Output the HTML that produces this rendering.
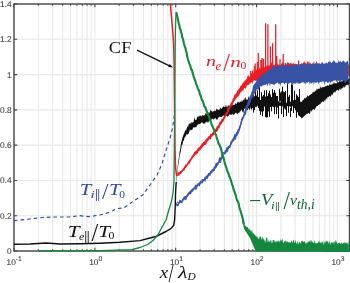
<!DOCTYPE html>
<html><head><meta charset="utf-8"><style>
html,body{margin:0;padding:0;background:#fff;width:350px;height:283px;overflow:hidden;}
svg{display:block;}
.tk{font-family:"Liberation Sans",Arial,sans-serif;font-size:8.3px;fill:#383838;stroke:#383838;stroke-width:0.08px;text-rendering:geometricPrecision;}
.sup{font-size:6.8px;}
.lab{font-family:"Liberation Serif","DejaVu Serif",serif;font-style:italic;}
</style></head><body>
<svg width="350" height="283" viewBox="0 0 350 283">
<defs><clipPath id="c"><rect x="14.0" y="4.0" width="335.5" height="248.1"/></clipPath></defs>
<path d="M14.0 215.72H349.5M14.0 180.44H349.5M14.0 145.16H349.5M14.0 109.88H349.5M14.0 74.60H349.5M14.0 39.32H349.5M38.34 4.0V251.0M52.58 4.0V251.0M62.68 4.0V251.0M70.51 4.0V251.0M76.91 4.0V251.0M82.33 4.0V251.0M87.01 4.0V251.0M91.15 4.0V251.0M94.85 4.0V251.0M119.19 4.0V251.0M133.43 4.0V251.0M143.53 4.0V251.0M151.36 4.0V251.0M157.76 4.0V251.0M163.18 4.0V251.0M167.86 4.0V251.0M172.00 4.0V251.0M175.70 4.0V251.0M200.04 4.0V251.0M214.28 4.0V251.0M224.38 4.0V251.0M232.21 4.0V251.0M238.61 4.0V251.0M244.03 4.0V251.0M248.71 4.0V251.0M252.85 4.0V251.0M256.55 4.0V251.0M280.89 4.0V251.0M295.13 4.0V251.0M305.23 4.0V251.0M313.06 4.0V251.0M319.46 4.0V251.0M324.88 4.0V251.0M329.56 4.0V251.0M333.70 4.0V251.0M337.40 4.0V251.0" stroke="#e8e8e8" stroke-width="1.1" fill="none"/>
<rect x="14.0" y="4.0" width="335.5" height="247.0" fill="none" stroke="#454545" stroke-width="1.4"/>
<path d="M14.0 251.00h3.2M349.5 251.00h-3.2M14.0 215.72h3.2M349.5 215.72h-3.2M14.0 180.44h3.2M349.5 180.44h-3.2M14.0 145.16h3.2M349.5 145.16h-3.2M14.0 109.88h3.2M349.5 109.88h-3.2M14.0 74.60h3.2M349.5 74.60h-3.2M14.0 39.32h3.2M349.5 39.32h-3.2M14.0 4.04h3.2M349.5 4.04h-3.2M14.00 251.0v-3.2M14.00 4.0v3.2M38.34 251.0v-1.8M38.34 4.0v1.8M52.58 251.0v-1.8M52.58 4.0v1.8M62.68 251.0v-1.8M62.68 4.0v1.8M70.51 251.0v-1.8M70.51 4.0v1.8M76.91 251.0v-1.8M76.91 4.0v1.8M82.33 251.0v-1.8M82.33 4.0v1.8M87.01 251.0v-1.8M87.01 4.0v1.8M91.15 251.0v-1.8M91.15 4.0v1.8M94.85 251.0v-3.2M94.85 4.0v3.2M119.19 251.0v-1.8M119.19 4.0v1.8M133.43 251.0v-1.8M133.43 4.0v1.8M143.53 251.0v-1.8M143.53 4.0v1.8M151.36 251.0v-1.8M151.36 4.0v1.8M157.76 251.0v-1.8M157.76 4.0v1.8M163.18 251.0v-1.8M163.18 4.0v1.8M167.86 251.0v-1.8M167.86 4.0v1.8M172.00 251.0v-1.8M172.00 4.0v1.8M175.70 251.0v-3.2M175.70 4.0v3.2M200.04 251.0v-1.8M200.04 4.0v1.8M214.28 251.0v-1.8M214.28 4.0v1.8M224.38 251.0v-1.8M224.38 4.0v1.8M232.21 251.0v-1.8M232.21 4.0v1.8M238.61 251.0v-1.8M238.61 4.0v1.8M244.03 251.0v-1.8M244.03 4.0v1.8M248.71 251.0v-1.8M248.71 4.0v1.8M252.85 251.0v-1.8M252.85 4.0v1.8M256.55 251.0v-3.2M256.55 4.0v3.2M280.89 251.0v-1.8M280.89 4.0v1.8M295.13 251.0v-1.8M295.13 4.0v1.8M305.23 251.0v-1.8M305.23 4.0v1.8M313.06 251.0v-1.8M313.06 4.0v1.8M319.46 251.0v-1.8M319.46 4.0v1.8M324.88 251.0v-1.8M324.88 4.0v1.8M329.56 251.0v-1.8M329.56 4.0v1.8M333.70 251.0v-1.8M333.70 4.0v1.8M337.40 251.0v-3.2M337.40 4.0v3.2" stroke="#454545" stroke-width="1.1" fill="none"/>
<g clip-path="url(#c)" fill="none" stroke-linejoin="round">
<path d="M249.00 101.94L249.80 100.22L250.60 100.88L251.40 101.78L252.20 100.89L253.00 102.04L253.80 102.15L254.60 101.15L255.40 99.46L256.20 102.29L257.00 100.59L257.80 101.72L258.60 102.30L259.40 100.49L260.20 102.04L261.00 101.33L261.80 101.02L262.60 101.25L263.40 102.14L264.20 101.30L265.00 101.96L265.80 102.02L266.60 102.53L267.40 101.95L268.20 101.61L269.00 102.25L269.80 101.39L270.60 101.09L271.40 102.59L272.20 101.60L273.00 100.83L273.80 102.67L274.60 101.91L275.40 101.52L276.20 101.68L277.00 102.10L277.80 100.93L278.60 101.80L279.40 102.28L280.20 102.49L281.00 101.86L281.80 102.07L282.60 102.60L283.40 102.08L284.20 102.75L285.00 101.52L285.80 102.71L286.60 102.78L287.40 101.70L288.20 101.77L289.00 102.82L289.80 100.82L290.60 102.11L291.40 101.60L292.20 100.75L293.00 102.85L293.80 101.61L294.60 101.11L295.40 101.65L296.20 102.07L297.00 101.62L297.80 102.53L298.60 102.03L298.60 106.00L297.80 106.27L297.00 106.63L296.20 106.25L295.40 107.09L294.60 106.82L293.80 106.15L293.00 106.22L292.20 106.04L291.40 106.63L290.60 107.14L289.80 105.95L289.00 106.76L288.20 106.59L287.40 105.93L286.60 106.76L285.80 106.00L285.00 108.06L284.20 107.36L283.40 105.85L282.60 105.87L281.80 107.13L281.00 105.88L280.20 105.86L279.40 105.79L278.60 106.21L277.80 108.00L277.00 106.76L276.20 106.19L275.40 106.68L274.60 107.35L273.80 106.85L273.00 107.47L272.20 106.00L271.40 106.94L270.60 106.88L269.80 106.92L269.00 106.25L268.20 108.99L267.40 107.26L266.60 106.01L265.80 107.24L265.00 106.72L264.20 106.54L263.40 106.44L262.60 107.13L261.80 106.74L261.00 107.38L260.20 106.75L259.40 107.79L258.60 105.56L257.80 105.69L257.00 105.54L256.20 105.79L255.40 105.88L254.60 107.73L253.80 107.70L253.00 106.95L252.20 106.67L251.40 106.02L250.60 106.41L249.80 106.20L249.00 106.37Z" fill="#111111"/>
<path d="M251.50 95.83V108.48M251.50 97.42V109.46M252.50 96.56V106.17M253.50 94.55V112.50M254.50 96.14V110.09M255.50 88.12V99.14M256.50 95.47V104.78M257.50 90.30V103.09M258.50 98.07V108.17M258.50 97.02V107.11M259.50 98.72V111.03M259.50 86.23V107.56M260.50 99.98V114.93M261.50 92.24V111.61M262.50 99.03V116.25M262.50 96.40V115.19M263.50 95.01V111.31M264.50 90.37V102.63M265.50 96.63V117.15M266.50 99.08V117.45M266.50 90.12V109.65M267.50 95.89V117.37M268.50 93.20V111.46M269.50 90.68V110.80M269.50 101.76V116.87M270.50 94.57V103.10M271.50 97.14V111.34M272.50 89.08V103.19M273.50 92.59V106.79M274.50 90.23V114.12M274.50 90.75V110.15M275.50 92.76V102.74M276.50 104.27V114.13M276.50 95.99V113.19M277.50 96.02V107.07M278.50 101.45V118.50M279.50 92.01V100.54M279.50 88.77V101.76M280.50 92.49V101.40M281.50 91.41V114.08M282.50 94.62V106.26M282.50 86.63V102.68M283.50 95.31V117.08M283.50 91.65V102.59M284.50 92.13V108.56M285.50 90.82V108.88M285.50 95.21V109.54M286.50 105.24V116.11M287.50 81.70V104.70M287.50 85.72V97.41M288.50 96.75V112.85M289.50 95.06V103.71M290.50 107.98V117.04M291.50 84.29V106.39M291.50 89.68V110.94M292.50 84.61V106.21M293.50 100.15V112.98M294.50 95.13V105.78M294.50 90.65V108.19M295.50 99.82V110.30M296.50 94.35V117.80M297.50 95.66V108.17M298.50 97.01V115.31M299.50 89.03V103.67" stroke="#111111" stroke-width="1"/>
<path d="M297.00 96.23L297.50 98.51L298.00 97.45L298.50 99.00L299.00 100.02L299.50 98.30L300.00 101.26L300.50 101.55L301.00 101.92L301.50 101.95L302.00 101.43L302.50 100.06L303.00 100.40L303.50 99.45L304.00 99.46L304.50 97.43L305.00 98.38L305.50 98.18L306.00 97.87L306.50 97.17L307.00 96.70L307.50 94.94L308.00 96.19L308.50 96.16L309.00 95.79L309.50 95.34L310.00 94.68L310.50 94.87L311.00 94.07L311.50 94.02L312.00 93.99L312.50 91.98L313.00 92.93L313.50 91.80L314.00 91.69L314.50 92.36L315.00 90.31L315.50 90.77L316.00 91.48L316.50 88.04L317.00 90.51L317.50 88.73L318.00 88.65L318.50 89.17L319.00 88.01L319.50 88.85L320.00 88.65L320.50 86.55L321.00 86.57L321.50 88.33L322.00 87.97L322.50 86.47L323.00 87.02L323.50 87.19L324.00 87.05L324.50 87.24L325.00 85.92L325.50 86.03L326.00 86.78L326.50 85.72L327.00 85.75L327.50 84.97L328.00 85.69L328.50 85.66L329.00 85.44L329.50 84.45L330.00 83.48L330.50 84.70L331.00 85.23L331.50 84.75L332.00 82.80L332.50 84.38L333.00 83.92L333.50 83.43L334.00 81.47L334.50 83.82L335.00 82.94L335.50 83.46L336.00 83.02L336.50 83.63L337.00 82.52L337.50 79.74L338.00 83.00L338.50 82.29L339.00 81.95L339.50 80.46L340.00 81.02L340.50 81.93L341.00 81.77L341.50 80.98L342.00 81.13L342.50 81.61L343.00 80.32L343.50 78.79L344.00 80.96L344.50 80.94L345.00 80.58L345.50 78.92L346.00 80.46L346.50 78.42L347.00 78.91L347.50 79.76L348.00 79.58L348.50 78.64L349.00 78.14L349.00 83.54L348.50 85.94L348.00 84.80L347.50 84.95L347.00 84.59L346.50 85.16L346.00 85.14L345.50 85.64L345.00 87.46L344.50 86.20L344.00 88.60L343.50 86.35L343.00 87.15L342.50 88.32L342.00 88.16L341.50 89.59L341.00 87.53L340.50 90.32L340.00 89.44L339.50 88.58L339.00 90.08L338.50 91.75L338.00 89.44L337.50 90.04L337.00 89.93L336.50 90.85L336.00 90.75L335.50 92.85L335.00 91.48L334.50 92.30L334.00 92.37L333.50 92.44L333.00 93.40L332.50 95.59L332.00 94.22L331.50 94.45L331.00 96.32L330.50 96.99L330.00 95.53L329.50 96.13L329.00 96.28L328.50 97.59L328.00 96.88L327.50 97.09L327.00 99.84L326.50 98.49L326.00 98.13L325.50 99.65L325.00 102.11L324.50 99.73L324.00 101.01L323.50 102.15L323.00 101.40L322.50 101.20L322.00 101.79L321.50 102.71L321.00 102.20L320.50 104.05L320.00 104.33L319.50 103.90L319.00 105.02L318.50 104.95L318.00 105.17L317.50 105.97L317.00 105.88L316.50 106.22L316.00 107.45L315.50 107.77L315.00 109.20L314.50 109.91L314.00 109.28L313.50 109.14L313.00 109.07L312.50 110.54L312.00 109.79L311.50 111.98L311.00 110.63L310.50 110.79L310.00 113.66L309.50 114.33L309.00 113.35L308.50 112.71L308.00 113.32L307.50 114.04L307.00 113.67L306.50 113.66L306.00 115.13L305.50 114.62L305.00 115.52L304.50 115.91L304.00 115.68L303.50 116.94L303.00 117.44L302.50 118.09L302.00 117.40L301.50 118.84L301.00 117.49L300.50 116.89L300.00 116.27L299.50 116.35L299.00 115.98L298.50 113.86L298.00 112.44L297.50 112.19L297.00 111.96Z" fill="#111111"/>
<path d="M14.00 244.20L30.00 244.00L46.00 243.00L60.00 244.00L80.00 243.80L100.00 243.20L120.00 242.20L140.00 240.60L150.00 238.00L156.00 236.50L161.00 234.00L166.00 231.50L170.80 228.60L173.60 225.50L174.60 220.00L175.20 207.50L175.60 192.00L176.20 182.00" stroke="#111111" stroke-width="1.4"/>
<path d="M176.20 179.77L176.90 172.95L177.60 166.37L178.30 160.89L179.00 156.36L179.70 151.15L180.40 147.61L181.10 142.52L181.80 140.51L182.50 137.36L183.20 135.53L183.90 133.72L184.60 132.24L185.30 130.01L186.00 130.39L186.70 128.39L187.40 126.39L188.10 126.83L188.80 123.80L189.50 124.04L190.20 122.39L190.90 124.30L191.60 121.85L192.30 122.80L193.00 122.37L193.70 121.71L194.40 117.02L195.10 119.87L195.80 120.13L196.50 119.40L197.20 116.21L197.90 117.52L198.60 116.27L199.30 116.26L200.00 115.46L200.70 115.65L201.40 116.83L202.10 114.92L202.80 115.20L203.50 115.80L204.20 115.51L204.90 115.31L205.60 112.80L206.30 114.70L207.00 111.97L207.70 111.34L208.40 112.40L209.10 113.55L209.80 112.28L210.50 109.41L211.20 111.53L211.90 110.42L212.60 112.32L213.30 111.09L214.00 111.57L214.70 110.36L215.40 111.28L216.10 109.89L216.80 108.18L217.50 109.43L218.20 110.11L218.90 109.39L219.60 109.81L220.30 107.54L221.00 108.49L221.70 109.01L222.40 107.43L223.10 106.72L223.80 106.15L224.50 106.95L225.20 107.01L225.90 104.16L226.60 106.90L227.30 107.38L228.00 104.89L228.70 105.77L229.40 106.24L230.10 105.93L230.80 105.94L231.50 103.23L232.20 105.15L232.90 105.18L233.60 104.81L234.30 104.96L235.00 104.51L235.70 102.41L236.40 104.27L237.10 103.11L237.80 101.39L238.50 102.09L239.20 103.03L239.90 101.46L240.60 101.89L241.30 100.28L242.00 102.14L242.70 100.80L243.40 99.20L244.10 100.87L244.80 98.01L245.50 97.12L246.20 100.35L246.90 98.96L247.60 100.22L248.30 95.89L249.00 98.49L249.70 98.70L250.40 99.38L251.10 98.68L251.80 99.18L252.50 98.99L253.20 97.88L253.90 98.11L254.60 96.96L255.30 98.73L256.00 98.69L256.70 96.53L257.40 97.99L257.40 106.38L256.70 106.53L256.00 107.50L255.30 106.44L254.60 107.94L253.90 108.28L253.20 107.72L252.50 108.49L251.80 107.45L251.10 106.88L250.40 107.88L249.70 110.29L249.00 109.14L248.30 107.74L247.60 110.60L246.90 109.49L246.20 108.06L245.50 108.66L244.80 108.45L244.10 109.07L243.40 112.91L242.70 112.18L242.00 110.78L241.30 109.34L240.60 111.51L239.90 111.32L239.20 113.33L238.50 112.55L237.80 113.51L237.10 114.58L236.40 112.90L235.70 112.44L235.00 113.46L234.30 114.50L233.60 115.32L232.90 113.50L232.20 114.62L231.50 114.66L230.80 114.77L230.10 114.51L229.40 113.93L228.70 115.73L228.00 115.90L227.30 116.94L226.60 115.54L225.90 115.39L225.20 116.17L224.50 117.33L223.80 115.28L223.10 115.72L222.40 116.20L221.70 117.02L221.00 116.98L220.30 117.04L219.60 116.44L218.90 117.13L218.20 117.74L217.50 119.52L216.80 119.48L216.10 119.46L215.40 117.81L214.70 118.80L214.00 118.87L213.30 119.67L212.60 118.59L211.90 118.73L211.20 120.32L210.50 122.52L209.80 120.58L209.10 120.00L208.40 122.62L207.70 122.76L207.00 120.94L206.30 122.56L205.60 122.08L204.90 124.22L204.20 122.86L203.50 124.21L202.80 122.41L202.10 122.81L201.40 122.37L200.70 123.68L200.00 123.49L199.30 124.42L198.60 123.38L197.90 125.38L197.20 124.42L196.50 126.95L195.80 127.51L195.10 126.87L194.40 127.69L193.70 126.93L193.00 128.31L192.30 129.80L191.60 130.22L190.90 129.51L190.20 130.34L189.50 130.65L188.80 133.50L188.10 133.82L187.40 135.12L186.70 133.83L186.00 135.72L185.30 136.71L184.60 137.45L183.90 140.53L183.20 141.10L182.50 144.57L181.80 145.17L181.10 148.90L180.40 153.30L179.70 155.62L179.00 160.52L178.30 164.76L177.60 169.56L176.90 176.57L176.20 182.84Z" fill="#111111"/>
<path d="M170.20 3.00L171.80 20.00L173.00 35.00L173.70 45.00L174.20 70.00L174.60 110.00L175.00 150.00L175.60 168.00L176.60 175.50L177.50 175.50" stroke="#ec1c24" stroke-width="1.5"/>
<path d="M248.3 81.1V75.5M250.6 79.3V71.0M251.4 78.6V74.0M252.6 77.6V70.5M254.4 76.3V66.0M255.2 76.0V63.5M257.4 75.0V62.0M258.3 74.6V53.0M260.9 73.4V60.0M262.0 72.9V58.0M263.5 72.2V59.0M265.6 71.8V23.2M267.9 71.4V24.2M270.4 71.0V46.5M272.6 70.7V43.3M275.7 70.5V24.2M276.8 70.5V56.0M280.0 70.5V59.2M283.2 70.4V54.0M285.3 70.4V63.0M287.4 70.4V62.4M298.6 70.3V60.6M292.0 70.4V64.0M305.0 70.3V63.0M318.0 70.2V63.5M330.0 70.1V62.0" stroke="#ec1c24" stroke-width="1.25"/>
<path d="M177.30 173.00L177.90 172.39L178.50 172.33L179.10 172.24L179.70 171.74L180.30 170.68L180.90 171.05L181.50 170.33L182.10 169.46L182.70 168.89L183.30 167.93L183.90 167.47L184.50 166.03L185.10 165.83L185.70 163.73L186.30 164.63L186.90 163.79L187.50 162.71L188.10 161.68L188.70 160.48L189.30 160.25L189.90 158.82L190.50 158.40L191.10 157.61L191.70 155.64L192.30 155.39L192.90 154.94L193.50 153.74L194.10 152.33L194.70 151.29L195.30 151.57L195.90 150.99L196.50 150.20L197.10 149.56L197.70 148.27L198.30 147.44L198.90 147.38L199.50 147.05L200.10 146.08L200.70 145.49L201.30 144.51L201.90 142.95L202.50 143.62L203.10 142.07L203.70 142.08L204.30 141.63L204.90 141.02L205.50 139.35L206.10 139.79L206.70 138.07L207.30 138.02L207.90 137.23L208.50 136.33L209.10 136.30L209.70 135.47L210.30 133.73L210.90 134.10L211.50 133.92L212.10 133.06L212.70 132.60L213.30 131.51L213.90 131.34L214.50 129.69L215.10 129.58L215.70 128.72L216.30 127.81L216.90 126.05L217.50 126.22L218.10 125.25L218.70 124.40L219.30 122.55L219.90 121.42L220.50 121.81L221.10 119.99L221.70 118.67L222.30 118.98L222.90 118.25L223.50 116.72L224.10 116.15L224.70 114.57L225.30 113.55L225.90 112.29L226.50 111.78L227.10 109.86L227.70 107.39L228.30 107.63L228.90 106.99L229.50 105.56L230.10 104.46L230.70 102.95L231.30 102.33L231.90 101.54L232.50 99.51L233.10 98.34L233.70 97.57L234.30 94.94L234.90 94.32L235.50 94.24L236.10 93.53L236.70 92.55L237.30 90.18L237.90 90.40L238.50 89.16L239.10 88.42L239.70 87.90L240.30 86.33L240.90 85.83L241.50 85.14L242.10 83.84L242.70 83.45L243.30 82.06L243.90 82.57L244.50 80.86L245.10 80.84L245.70 79.61L246.30 79.24L246.90 79.10L247.50 75.91L248.10 77.33L248.70 77.10L249.30 77.06L249.90 76.23L250.50 74.59L251.10 74.92L251.70 72.77L252.30 74.07L252.90 73.86L253.50 73.18L254.10 71.04L254.70 72.04L255.30 71.01L255.90 70.26L256.50 70.23L257.10 68.11L257.70 69.67L258.30 70.09L258.90 69.90L259.50 67.08L260.10 68.03L260.70 68.95L261.30 68.06L261.90 67.27L262.50 67.46L263.10 67.38L263.70 67.14L264.30 67.20L264.90 67.07L265.50 65.31L266.10 67.04L266.70 65.52L267.30 65.26L267.90 66.36L268.50 65.54L269.10 64.76L269.70 66.14L270.30 64.55L270.90 64.31L271.50 62.19L272.10 62.57L272.70 65.54L273.30 64.54L273.90 65.49L274.50 65.49L275.10 62.96L275.70 63.33L276.30 63.76L276.90 65.50L277.50 63.09L278.10 65.22L278.70 64.33L279.30 65.02L279.90 64.17L280.50 65.41L281.10 64.57L281.70 64.49L282.30 61.54L282.90 63.75L283.50 64.09L284.10 65.08L284.70 65.21L285.30 63.40L285.90 64.45L286.50 63.96L287.10 64.90L287.70 63.01L288.30 62.61L288.90 62.95L289.50 63.97L290.10 63.07L290.70 62.74L291.30 64.93L291.90 62.60L292.50 64.38L293.10 63.26L293.70 62.73L294.30 64.19L294.90 64.20L295.50 63.58L296.10 63.69L296.70 64.24L297.30 64.85L297.90 63.84L298.50 63.90L299.10 64.72L299.70 64.78L300.30 63.70L300.90 64.00L301.50 62.65L302.10 64.44L302.70 63.14L303.30 62.55L303.90 63.76L304.50 60.53L305.10 63.34L305.70 63.39L306.30 64.34L306.90 61.45L307.50 61.77L308.10 61.33L308.70 63.19L309.30 63.77L309.90 63.56L310.50 63.67L311.10 64.90L311.70 64.22L312.30 63.88L312.90 64.92L313.50 63.25L314.10 61.09L314.70 63.98L315.30 63.30L315.90 63.45L316.50 64.73L317.10 63.61L317.70 64.51L318.30 63.61L318.90 63.63L319.50 62.55L320.10 65.15L320.70 64.37L321.30 63.52L321.90 64.98L322.50 63.51L323.10 65.20L323.70 65.08L324.30 64.32L324.90 63.56L325.50 64.71L326.10 64.87L326.70 65.01L327.30 65.14L327.90 63.89L328.50 63.71L329.10 64.68L329.70 64.60L330.30 64.06L330.90 64.77L331.50 64.73L332.10 64.70L332.70 62.36L333.30 64.79L333.90 62.77L334.50 63.97L335.10 64.41L335.70 64.82L336.30 64.75L336.90 65.29L337.50 65.31L338.10 64.99L338.70 62.92L339.30 65.09L339.90 62.41L340.50 64.91L341.10 64.45L341.70 64.48L342.30 65.14L342.90 65.08L343.50 63.59L344.10 63.21L344.70 64.10L345.30 62.89L345.90 64.26L346.50 63.50L347.10 64.18L347.70 64.69L348.30 63.83L348.90 65.14L348.90 77.61L348.30 74.74L347.70 75.29L347.10 75.29L346.50 75.93L345.90 76.56L345.30 75.56L344.70 74.68L344.10 75.69L343.50 74.87L342.90 75.82L342.30 75.00L341.70 76.92L341.10 76.83L340.50 74.75L339.90 75.43L339.30 74.97L338.70 74.86L338.10 75.04L337.50 74.92L336.90 76.19L336.30 77.22L335.70 75.65L335.10 76.59L334.50 76.06L333.90 77.16L333.30 76.97L332.70 76.62L332.10 77.10L331.50 75.16L330.90 77.20L330.30 76.54L329.70 75.60L329.10 77.11L328.50 75.88L327.90 75.79L327.30 75.85L326.70 75.97L326.10 75.56L325.50 77.07L324.90 76.50L324.30 76.25L323.70 75.31L323.10 75.20L322.50 77.39L321.90 76.31L321.30 79.83L320.70 75.33L320.10 75.74L319.50 76.28L318.90 76.53L318.30 75.55L317.70 76.85L317.10 76.12L316.50 76.67L315.90 76.55L315.30 76.09L314.70 75.78L314.10 77.56L313.50 76.20L312.90 79.05L312.30 77.48L311.70 76.33L311.10 77.64L310.50 75.86L309.90 77.32L309.30 76.38L308.70 76.81L308.10 80.16L307.50 76.23L306.90 77.61L306.30 77.39L305.70 76.06L305.10 76.94L304.50 78.47L303.90 77.50L303.30 76.42L302.70 77.52L302.10 76.51L301.50 76.40L300.90 76.06L300.30 78.87L299.70 77.14L299.10 78.52L298.50 78.15L297.90 78.18L297.30 78.10L296.70 77.02L296.10 76.31L295.50 76.40L294.90 77.04L294.30 76.41L293.70 78.14L293.10 76.95L292.50 78.60L291.90 76.10L291.30 78.15L290.70 77.92L290.10 78.40L289.50 77.25L288.90 78.43L288.30 75.66L287.70 78.86L287.10 76.70L286.50 76.02L285.90 76.29L285.30 77.07L284.70 75.87L284.10 75.66L283.50 77.31L282.90 77.11L282.30 75.52L281.70 77.08L281.10 78.59L280.50 76.11L279.90 76.38L279.30 75.79L278.70 77.83L278.10 76.86L277.50 75.69L276.90 75.63L276.30 77.79L275.70 77.33L275.10 77.38L274.50 76.93L273.90 76.18L273.30 76.94L272.70 76.57L272.10 75.94L271.50 76.56L270.90 77.15L270.30 76.02L269.70 79.00L269.10 76.06L268.50 76.00L267.90 76.17L267.30 77.48L266.70 76.84L266.10 76.65L265.50 76.92L264.90 80.01L264.30 79.14L263.70 78.54L263.10 79.86L262.50 77.59L261.90 78.38L261.30 78.43L260.70 77.89L260.10 78.62L259.50 79.80L258.90 78.53L258.30 79.46L257.70 80.22L257.10 81.44L256.50 80.45L255.90 80.17L255.30 81.14L254.70 80.49L254.10 80.32L253.50 80.65L252.90 82.02L252.30 84.35L251.70 81.87L251.10 82.25L250.50 83.76L249.90 83.08L249.30 84.73L248.70 84.63L248.10 85.07L247.50 85.20L246.90 85.40L246.30 87.21L245.70 89.07L245.10 88.18L244.50 87.71L243.90 88.67L243.30 90.77L242.70 90.37L242.10 91.55L241.50 91.51L240.90 92.52L240.30 92.22L239.70 94.73L239.10 94.43L238.50 96.66L237.90 96.18L237.30 97.35L236.70 97.82L236.10 98.18L235.50 99.49L234.90 100.22L234.30 101.54L233.70 102.01L233.10 104.25L232.50 105.12L231.90 105.93L231.30 106.63L230.70 107.57L230.10 108.61L229.50 109.99L228.90 111.20L228.30 112.17L227.70 113.84L227.10 114.19L226.50 115.89L225.90 116.26L225.30 118.33L224.70 118.77L224.10 119.82L223.50 121.21L222.90 122.03L222.30 122.62L221.70 123.77L221.10 124.37L220.50 125.26L219.90 126.61L219.30 128.93L218.70 127.96L218.10 129.80L217.50 131.38L216.90 132.03L216.30 131.79L215.70 132.39L215.10 133.63L214.50 134.27L213.90 135.14L213.30 135.22L212.70 135.79L212.10 136.91L211.50 136.98L210.90 139.35L210.30 139.18L209.70 139.08L209.10 139.78L208.50 140.34L207.90 141.03L207.30 141.71L206.70 143.02L206.10 144.69L205.50 144.60L204.90 145.34L204.30 144.81L203.70 146.12L203.10 146.60L202.50 147.57L201.90 147.99L201.30 148.85L200.70 149.53L200.10 150.74L199.50 150.33L198.90 151.11L198.30 151.87L197.70 153.67L197.10 153.17L196.50 154.48L195.90 154.82L195.30 154.92L194.70 155.96L194.10 156.64L193.50 157.16L192.90 158.10L192.30 159.12L191.70 159.55L191.10 160.78L190.50 161.83L189.90 162.74L189.30 164.58L188.70 163.74L188.10 165.55L187.50 165.61L186.90 166.85L186.30 167.22L185.70 168.30L185.10 168.57L184.50 170.48L183.90 170.99L183.30 170.46L182.70 171.72L182.10 172.00L181.50 172.93L180.90 173.90L180.30 173.89L179.70 174.44L179.10 176.05L178.50 175.71L177.90 175.85L177.30 176.53Z" fill="#ec1c24"/>
<path d="M176.30 204.30L177.10 204.27L177.90 203.75L178.70 202.01L179.50 199.50L180.30 200.77L181.10 200.94L181.90 200.07L182.70 198.60L183.50 197.83L184.30 197.00L185.10 196.94L185.90 196.11L186.70 194.97L187.50 194.55L188.30 193.98L189.10 192.06L189.90 190.80L190.70 191.26L191.50 189.05L192.30 189.35L193.10 187.79L193.90 188.37L194.70 187.06L195.50 184.13L196.30 185.06L197.10 184.41L197.90 183.13L198.70 183.83L199.50 182.75L200.30 181.48L201.10 181.45L201.90 181.02L202.70 179.80L203.50 179.32L204.30 178.68L205.10 178.51L205.90 177.80L206.70 176.64L207.50 174.62L208.30 173.05L209.10 173.04L209.90 172.59L210.70 172.08L211.50 171.44L212.30 169.99L213.10 169.21L213.90 166.85L214.70 166.97L215.50 163.34L216.30 163.34L217.10 163.09L217.90 162.58L218.70 161.66L219.50 159.03L220.30 158.03L221.10 157.97L221.90 155.29L222.70 155.50L223.50 154.05L224.30 153.19L225.10 151.62L225.90 149.18L226.70 148.70L227.50 147.55L228.30 145.92L229.10 145.38L229.90 144.82L230.70 140.74L231.50 142.41L232.30 139.79L233.10 139.07L233.90 136.33L234.70 135.39L235.50 134.01L236.30 132.10L237.10 132.29L237.90 129.07L238.70 128.87L239.50 125.56L240.30 123.99L241.10 119.85L241.90 117.58L242.70 116.40L243.50 114.14L244.30 111.85L245.10 109.01L245.90 104.95L246.70 105.42L247.50 101.74L248.30 100.55L249.10 98.08L249.90 96.09L250.70 94.65L251.50 91.77L252.30 90.61L253.10 86.03L253.90 84.47L254.70 83.42L255.50 82.68L256.30 81.61L257.10 79.04L257.90 78.71L258.70 78.97L259.50 74.85L260.30 76.54L261.10 76.37L261.90 75.05L262.70 74.91L263.50 73.46L264.30 74.16L265.10 73.42L265.90 69.67L266.70 72.26L267.50 71.48L268.30 70.62L269.10 67.83L269.90 69.62L270.70 69.65L271.50 69.00L272.30 66.55L273.10 66.94L273.90 65.32L274.70 67.03L275.50 64.97L276.30 66.04L277.10 66.32L277.90 65.21L278.70 66.43L279.50 66.53L280.30 66.61L281.10 65.01L281.90 62.82L282.70 65.30L283.50 64.91L284.30 64.70L285.10 65.07L285.90 65.03L286.70 65.97L287.50 64.82L288.30 66.17L289.10 65.60L289.90 64.93L290.70 65.97L291.50 63.13L292.30 65.50L293.10 64.86L293.90 65.85L294.70 64.22L295.50 65.35L296.30 64.20L297.10 64.21L297.90 65.28L298.70 63.55L299.50 64.62L300.30 65.14L301.10 63.55L301.90 63.89L302.70 64.40L303.50 61.38L304.30 64.52L305.10 64.25L305.90 64.15L306.70 64.82L307.50 63.89L308.30 64.68L309.10 61.28L309.90 64.55L310.70 62.28L311.50 64.34L312.30 63.71L313.10 62.15L313.90 64.48L314.70 64.54L315.50 64.18L316.30 60.69L317.10 62.94L317.90 63.78L318.70 63.64L319.50 63.93L320.30 63.93L321.10 63.56L321.90 61.96L322.70 62.53L323.50 63.63L324.30 63.85L325.10 63.39L325.90 62.99L326.70 62.47L327.50 63.82L328.30 61.76L329.10 61.93L329.90 61.05L330.70 62.23L331.50 62.88L332.30 62.24L333.10 60.97L333.90 60.45L334.70 61.20L335.50 62.73L336.30 62.84L337.10 62.45L337.90 63.16L338.70 59.45L339.50 62.35L340.30 60.64L341.10 61.96L341.90 62.36L342.70 60.98L343.50 60.55L344.30 61.16L345.10 62.90L345.90 61.82L346.70 61.82L347.50 61.00L348.30 61.32L348.30 83.67L347.50 79.86L346.70 80.61L345.90 82.23L345.10 83.48L344.30 81.01L343.50 80.16L342.70 81.00L341.90 80.11L341.10 80.96L340.30 81.70L339.50 80.74L338.70 80.66L337.90 80.48L337.10 80.46L336.30 82.28L335.50 80.31L334.70 80.50L333.90 80.49L333.10 80.85L332.30 81.91L331.50 81.42L330.70 83.06L329.90 82.39L329.10 81.07L328.30 83.29L327.50 83.07L326.70 81.49L325.90 81.71L325.10 81.85L324.30 84.99L323.50 81.32L322.70 80.92L321.90 82.76L321.10 81.50L320.30 82.07L319.50 82.28L318.70 84.30L317.90 82.30L317.10 81.77L316.30 82.97L315.50 82.89L314.70 81.61L313.90 85.16L313.10 81.88L312.30 82.63L311.50 83.68L310.70 81.98L309.90 85.11L309.10 81.94L308.30 81.69L307.50 83.34L306.70 81.79L305.90 84.76L305.10 82.59L304.30 83.49L303.50 82.15L302.70 82.20L301.90 82.53L301.10 82.76L300.30 83.18L299.50 83.44L298.70 84.08L297.90 81.97L297.10 83.99L296.30 82.54L295.50 83.84L294.70 83.98L293.90 82.57L293.10 84.87L292.30 83.94L291.50 84.01L290.70 82.23L289.90 83.87L289.10 82.80L288.30 84.30L287.50 84.65L286.70 83.38L285.90 82.55L285.10 83.30L284.30 84.47L283.50 82.83L282.70 82.79L281.90 83.04L281.10 83.12L280.30 86.03L279.50 83.40L278.70 84.15L277.90 82.44L277.10 82.75L276.30 83.58L275.50 83.50L274.70 84.65L273.90 84.54L273.10 84.69L272.30 83.95L271.50 84.16L270.70 83.40L269.90 86.84L269.10 83.10L268.30 83.56L267.50 86.41L266.70 83.81L265.90 84.59L265.10 85.28L264.30 84.72L263.50 85.51L262.70 85.10L261.90 87.18L261.10 85.71L260.30 86.30L259.50 87.79L258.70 89.85L257.90 89.93L257.10 88.71L256.30 90.69L255.50 92.33L254.70 93.55L253.90 94.51L253.10 98.46L252.30 97.34L251.50 99.02L250.70 101.84L249.90 103.84L249.10 105.82L248.30 106.20L247.50 108.66L246.70 110.96L245.90 114.43L245.10 114.94L244.30 116.74L243.50 118.75L242.70 120.21L241.90 123.03L241.10 124.71L240.30 127.68L239.50 129.51L238.70 133.38L237.90 133.91L237.10 135.73L236.30 135.77L235.50 137.29L234.70 139.12L233.90 139.97L233.10 142.09L232.30 142.28L231.50 144.52L230.70 145.36L229.90 146.18L229.10 148.35L228.30 148.43L227.50 150.56L226.70 150.95L225.90 153.59L225.10 153.68L224.30 154.70L223.50 155.27L222.70 158.89L221.90 158.33L221.10 159.88L220.30 161.57L219.50 162.74L218.70 162.61L217.90 164.58L217.10 166.11L216.30 166.95L215.50 168.47L214.70 169.71L213.90 171.25L213.10 171.06L212.30 173.11L211.50 173.45L210.70 174.20L209.90 174.31L209.10 175.71L208.30 176.77L207.50 179.26L206.70 178.40L205.90 179.55L205.10 180.12L204.30 180.19L203.50 181.39L202.70 183.36L201.90 182.99L201.10 183.45L200.30 184.16L199.50 186.74L198.70 184.92L197.90 186.36L197.10 186.93L196.30 187.03L195.50 190.04L194.70 188.65L193.90 189.52L193.10 190.64L192.30 192.16L191.50 192.36L190.70 192.62L189.90 194.10L189.10 193.97L188.30 194.85L187.50 197.04L186.70 196.36L185.90 198.41L185.10 199.18L184.30 198.70L183.50 200.42L182.70 200.36L181.90 201.83L181.10 201.78L180.30 202.99L179.50 203.37L178.70 204.92L177.90 206.51L177.10 205.48L176.30 206.71Z" fill="#3953a4"/>
<path d="M176.30 204.59L177.10 205.05L177.90 205.93L178.70 203.69L179.50 202.94L180.30 200.22L181.10 202.91L181.90 202.65L182.70 199.80L183.50 198.78L184.30 196.38L185.10 198.66L185.90 200.05L186.70 196.88L187.50 196.74L188.30 195.08L189.10 192.46L189.90 194.45L190.70 190.58L191.50 191.01L192.30 190.81L193.10 190.74L193.90 189.39L194.70 188.56L195.50 186.45L196.30 185.11L197.10 186.03L197.90 184.41L198.70 182.99L199.50 182.34L200.30 182.57L201.10 180.23L201.90 180.14L202.70 179.09L203.50 180.57L204.30 180.14L205.10 181.36L205.90 176.45L206.70 176.62L207.50 177.60L208.30 175.31L209.10 174.25L209.90 175.76L210.70 172.37L211.50 170.46L212.30 169.33L213.10 170.38L213.90 169.41L214.70 166.47L215.50 165.76L216.30 166.37L217.10 165.22L217.90 162.54L218.70 162.85L219.50 161.58L220.30 157.54L221.10 158.10L221.90 157.76L222.70 155.37L223.50 152.29L224.30 153.32L225.10 153.36L225.90 153.16L226.70 147.44L227.50 152.01L228.30 146.33L229.10 147.63L229.90 146.77L230.70 145.27L231.50 143.08L232.30 140.18L233.10 140.96L233.90 137.99L234.70 134.46L235.50 139.51L236.30 135.60L237.10 135.57L237.90 130.93L238.70 132.13L239.50 129.75L240.30 127.18L241.10 122.76L241.90 118.82M176.30 205.29L177.10 202.14L177.90 202.02L178.70 203.46L179.50 201.44L180.30 201.72L181.10 201.07L181.90 202.80L182.70 201.32L183.50 198.99L184.30 199.78L185.10 196.67L185.90 196.40L186.70 197.11L187.50 193.74L188.30 194.10L189.10 192.06L189.90 192.99L190.70 194.02L191.50 190.36L192.30 190.74L193.10 188.60L193.90 187.51L194.70 186.61L195.50 189.11L196.30 189.50L197.10 186.54L197.90 184.40L198.70 185.40L199.50 183.46L200.30 184.12L201.10 182.80L201.90 182.09L202.70 181.78L203.50 179.66L204.30 179.17L205.10 176.89L205.90 177.72L206.70 175.73L207.50 176.33L208.30 174.42L209.10 174.76L209.90 174.25L210.70 171.07L211.50 170.87L212.30 169.78L213.10 170.88L213.90 171.10L214.70 169.14L215.50 166.52L216.30 167.49L217.10 162.71L217.90 165.11L218.70 161.32L219.50 157.56L220.30 162.87L221.10 160.37L221.90 156.03L222.70 156.26L223.50 154.59L224.30 153.78L225.10 150.68L225.90 150.45L226.70 150.63L227.50 149.14L228.30 149.12L229.10 146.58L229.90 148.11L230.70 143.24L231.50 143.21L232.30 139.28L233.10 138.71L233.90 140.44L234.70 136.35L235.50 136.75L236.30 134.68L237.10 132.13L237.90 131.61L238.70 129.75L239.50 127.26L240.30 126.22L241.10 123.57L241.90 119.57" stroke="#3953a4" stroke-width="0.9"/>
<path d="M14.00 220.60L28.00 219.20L42.60 217.50L55.00 217.00L68.30 217.00L74.00 216.40L79.70 215.60L84.00 216.20L88.30 216.60L94.00 215.90L99.70 215.00L106.00 213.40L112.60 210.80L117.00 208.60L124.00 207.80L134.00 200.70L143.00 194.70L151.00 183.60L157.00 175.00L162.00 164.00L166.40 149.00L169.50 140.00L172.20 129.40L174.10 117.80L174.60 110.00" stroke="#2d4ba8" stroke-width="1.15" stroke-dasharray="3.6 3.0"/>
<path d="M38.50 251.00L80.00 250.90L100.00 250.70L131.80 249.70L140.00 247.50L147.70 244.50L153.00 240.50L158.30 234.30L162.00 227.00L166.20 219.70L168.50 211.00L171.50 201.20L173.20 192.00L174.00 180.00L174.60 120.00L175.10 60.00L175.40 30.00L175.80 18.00L176.30 12.20" stroke="#13873d" stroke-width="1.3"/>
<path d="M176.30 12.38L176.90 14.75L177.50 17.57L178.10 20.17L178.70 23.30L179.30 25.04L179.90 28.73L180.50 29.39L181.10 32.51L181.70 33.82L182.30 37.62L182.90 38.69L183.50 41.13L184.10 43.99L184.70 46.50L185.30 47.52L185.90 50.26L186.50 52.17L187.10 55.84L187.70 58.53L188.30 60.61L188.90 62.02L189.50 63.79L190.10 65.19L190.70 67.49L191.30 69.78L191.90 69.78L192.50 72.67L193.10 74.40L193.70 76.80L194.30 77.90L194.90 80.19L195.50 81.32L196.10 83.90L196.70 85.19L197.30 86.67L197.90 88.58L198.50 89.86L199.10 90.77L199.70 93.57L200.30 95.02L200.90 96.40L201.50 98.65L202.10 100.40L202.70 100.68L203.30 102.38L203.90 105.20L204.50 106.66L205.10 107.01L205.70 108.30L206.30 110.14L206.90 111.75L207.50 112.69L208.10 115.11L208.70 115.92L209.30 117.50L209.90 120.20L210.50 120.86L211.10 122.71L211.70 124.60L212.30 126.20L212.90 127.06L213.50 128.77L214.10 129.82L214.70 132.88L215.30 133.92L215.90 134.60L216.50 136.85L217.10 138.89L217.70 140.40L218.30 142.79L218.90 144.18L219.50 144.77L220.10 146.66L220.70 147.65L221.30 150.14L221.90 152.35L222.50 156.03L223.10 156.87L223.70 157.93L224.30 160.99L224.90 163.69L225.50 165.21L226.10 167.04L226.70 168.94L227.30 170.94L227.90 172.28L228.50 173.50L229.10 176.04L229.70 176.93L230.30 178.75L230.90 180.09L231.50 182.25L232.10 184.87L232.70 185.45L233.30 188.13L233.90 190.39L234.50 191.60L235.10 193.76L235.70 194.83L236.30 197.98L236.90 199.67L237.50 201.01L238.10 201.73L238.70 204.02L239.30 207.04L239.90 209.35L240.50 210.55L241.10 213.38L241.70 214.67L242.30 217.20L242.90 219.62L243.50 222.54L244.10 224.24" stroke="#13873d" stroke-width="2.1"/>
<path d="M242.00 219.53L242.40 220.19L242.80 221.23L243.20 221.87L243.60 223.67L244.00 224.21L244.40 223.35L244.80 225.15L245.20 226.09L245.60 226.32L246.00 224.78L246.40 227.44L246.80 226.86L247.20 227.09L247.60 227.34L248.00 227.36L248.40 229.11L248.80 229.61L249.20 229.81L249.60 227.92L250.00 229.70L250.40 230.19L250.80 230.80L251.20 231.23L251.60 229.69L252.00 233.90L252.40 230.22L252.80 232.88L253.20 233.75L253.60 232.23L254.00 234.41L254.40 234.94L254.80 233.77L255.20 235.27L255.60 236.25L256.00 235.86L256.40 237.47L256.80 235.43L257.20 237.94L257.60 236.24L258.00 239.31L258.40 239.22L258.80 237.41L259.20 239.12L259.60 237.00L260.00 236.37L260.40 237.00L260.80 235.77L261.20 237.86L261.60 239.90L262.00 238.56L262.40 238.45L262.80 236.58L263.20 238.06L263.60 240.34L264.00 238.19L264.40 241.63L264.80 238.91L265.20 243.04L265.60 241.54L266.00 239.06L266.40 237.30L266.80 237.76L267.20 237.39L267.60 241.58L268.00 242.51L268.40 239.01L268.80 241.89L269.20 242.20L269.60 241.54L270.00 240.43L270.40 241.14L270.80 239.91L271.20 240.11L271.60 242.99L272.00 243.14L272.40 242.81L272.80 239.65L273.20 240.26L273.60 239.65L274.00 240.32L274.40 240.51L274.80 242.65L275.20 240.72L275.60 242.74L276.00 241.82L276.40 240.92L276.80 241.91L277.20 240.41L277.60 242.24L278.00 241.94L278.40 240.07L278.80 240.96L279.20 241.16L279.60 242.69L280.00 239.78L280.40 242.07L280.80 238.14L281.20 241.33L281.60 239.46L282.00 240.52L282.40 237.80L282.80 240.98L283.20 243.38L283.60 242.28L284.00 242.65L284.40 241.48L284.80 241.00L285.20 240.67L285.60 240.28L286.00 241.92L286.40 242.64L286.80 240.72L287.20 240.99L287.60 241.67L288.00 242.25L288.40 242.19L288.80 242.50L289.20 241.72L289.60 243.12L290.00 242.24L290.40 242.54L290.80 242.66L291.20 240.36L291.60 240.81L292.00 241.89L292.40 243.02L292.80 242.15L293.20 239.61L293.60 239.91L294.00 241.30L294.40 242.44L294.80 242.83L295.20 240.57L295.60 239.99L296.00 243.38L296.40 243.87L296.80 243.14L297.20 241.12L297.60 241.96L298.00 243.80L298.40 244.39L298.80 243.12L299.20 241.98L299.60 241.73L300.00 242.65L300.40 243.67L300.80 243.30L301.20 240.39L301.60 241.20L302.00 241.37L302.40 241.46L302.80 240.39L303.20 242.41L303.60 241.51L304.00 241.34L304.40 241.85L304.80 240.74L305.20 243.69L305.60 243.81L306.00 242.36L306.40 243.35L306.80 243.72L307.20 241.54L307.60 243.17L308.00 242.33L308.40 241.68L308.80 241.37L309.20 241.19L309.60 241.58L310.00 240.00L310.40 240.32L310.80 243.27L311.20 239.27L311.60 242.25L312.00 240.37L312.40 242.48L312.80 241.29L313.20 243.15L313.60 242.69L314.00 243.26L314.40 240.39L314.80 240.50L315.20 242.99L315.60 243.68L316.00 242.26L316.40 244.34L316.80 242.59L317.20 243.51L317.60 242.99L318.00 242.96L318.40 241.23L318.80 242.08L319.20 240.30L319.60 242.83L320.00 242.13L320.40 242.48L320.80 243.45L321.20 240.56L321.60 243.90L322.00 242.22L322.40 241.38L322.80 243.31L323.20 239.87L323.60 245.28L324.00 243.99L324.40 241.21L324.80 243.04L325.20 240.37L325.60 243.48L326.00 241.14L326.40 240.48L326.80 241.90L327.20 240.11L327.60 242.86L328.00 240.74L328.40 243.46L328.80 243.55L329.20 240.65L329.60 242.51L330.00 241.05L330.40 245.74L330.80 243.15L331.20 242.45L331.60 242.33L332.00 242.62L332.40 241.43L332.80 243.85L333.20 242.16L333.60 242.08L334.00 245.28L334.40 241.98L334.80 240.81L335.20 242.67L335.60 240.21L336.00 239.61L336.40 242.40L336.80 241.56L337.20 243.13L337.60 244.74L338.00 243.01L338.40 242.65L338.80 242.89L339.20 242.77L339.60 243.60L340.00 241.42L340.40 244.25L340.80 243.91L341.20 242.36L341.60 242.71L342.00 243.56L342.40 243.04L342.80 244.30L343.20 242.81L343.60 242.60L344.00 243.63L344.40 243.61L344.80 241.47L345.20 242.43L345.60 243.10L346.00 243.06L346.40 243.82L346.80 242.62L347.20 242.81L347.60 242.66L348.00 245.10L348.40 243.59L348.80 241.76L348.80 252.00L348.40 252.00L348.00 251.99L347.60 251.99L347.20 251.99L346.80 251.99L346.40 251.99L346.00 251.98L345.60 251.98L345.20 251.98L344.80 251.98L344.40 251.98L344.00 251.97L343.60 251.97L343.20 251.97L342.80 251.97L342.40 251.96L342.00 251.96L341.60 251.96L341.20 251.96L340.80 251.96L340.40 251.95L340.00 251.95L339.60 251.95L339.20 251.95L338.80 251.95L338.40 251.94L338.00 251.94L337.60 251.94L337.20 251.94L336.80 251.93L336.40 251.93L336.00 251.93L335.60 251.93L335.20 251.93L334.80 251.92L334.40 251.92L334.00 251.92L333.60 251.92L333.20 251.92L332.80 251.91L332.40 251.91L332.00 251.91L331.60 251.91L331.20 251.90L330.80 251.90L330.40 251.90L330.00 251.90L329.60 251.90L329.20 251.89L328.80 251.89L328.40 251.89L328.00 251.89L327.60 251.89L327.20 251.88L326.80 251.88L326.40 251.88L326.00 251.88L325.60 251.87L325.20 251.87L324.80 251.87L324.40 251.87L324.00 251.87L323.60 251.86L323.20 251.86L322.80 251.86L322.40 251.86L322.00 251.86L321.60 251.85L321.20 251.85L320.80 251.85L320.40 251.85L320.00 251.84L319.60 251.84L319.20 251.84L318.80 251.84L318.40 251.84L318.00 251.83L317.60 251.83L317.20 251.83L316.80 251.83L316.40 251.83L316.00 251.82L315.60 251.82L315.20 251.82L314.80 251.82L314.40 251.81L314.00 251.81L313.60 251.81L313.20 251.81L312.80 251.81L312.40 251.80L312.00 251.80L311.60 251.80L311.20 251.80L310.80 251.80L310.40 251.79L310.00 251.79L309.60 251.79L309.20 251.79L308.80 251.78L308.40 251.78L308.00 251.78L307.60 251.78L307.20 251.78L306.80 251.77L306.40 251.77L306.00 251.77L305.60 251.77L305.20 251.77L304.80 251.76L304.40 251.76L304.00 251.76L303.60 251.76L303.20 251.75L302.80 251.75L302.40 251.75L302.00 251.75L301.60 251.75L301.20 251.74L300.80 251.74L300.40 251.74L300.00 251.74L299.60 251.74L299.20 251.73L298.80 251.73L298.40 251.73L298.00 251.73L297.60 251.72L297.20 251.72L296.80 251.72L296.40 251.72L296.00 251.72L295.60 251.71L295.20 251.71L294.80 251.71L294.40 251.71L294.00 251.71L293.60 251.70L293.20 251.70L292.80 251.70L292.40 251.70L292.00 251.69L291.60 251.69L291.20 251.69L290.80 251.69L290.40 251.69L290.00 251.68L289.60 251.68L289.20 251.68L288.80 251.68L288.40 251.68L288.00 251.67L287.60 251.67L287.20 251.67L286.80 251.67L286.40 251.66L286.00 251.66L285.60 251.66L285.20 251.66L284.80 251.66L284.40 251.65L284.00 251.65L283.60 251.65L283.20 251.65L282.80 251.65L282.40 251.64L282.00 251.64L281.60 251.64L281.20 251.64L280.80 251.63L280.40 251.63L280.00 251.63L279.60 251.63L279.20 251.63L278.80 251.62L278.40 251.62L278.00 251.62L277.60 251.62L277.20 251.62L276.80 251.61L276.40 251.61L276.00 251.61L275.60 251.61L275.20 251.60L274.80 251.60L274.40 251.60L274.00 251.60L273.60 251.60L273.20 251.59L272.80 251.59L272.40 251.59L272.00 251.59L271.60 251.59L271.20 251.58L270.80 251.58L270.40 251.58L270.00 251.58L269.60 251.57L269.20 251.57L268.80 251.57L268.40 251.57L268.00 251.57L267.60 251.56L267.20 251.56L266.80 251.56L266.40 251.56L266.00 251.56L265.60 251.55L265.20 251.55L264.80 251.55L264.40 251.55L264.00 251.54L263.60 251.54L263.20 251.54L262.80 251.54L262.40 251.54L262.00 251.53L261.60 251.53L261.20 251.53L260.80 251.53L260.40 251.53L260.00 251.52L259.60 251.52L259.20 251.52L258.80 251.52L258.40 251.51L258.00 251.51L257.60 251.51L257.20 251.51L256.80 251.51L256.40 251.50L256.00 251.50L255.60 251.26L255.20 250.32L254.80 249.37L254.40 248.42L254.00 247.47L253.60 246.53L253.20 245.58L252.80 244.63L252.40 243.68L252.00 242.74L251.60 241.79L251.20 240.84L250.80 239.89L250.40 238.95L250.00 238.00L249.60 237.39L249.20 236.78L248.80 236.17L248.40 235.56L248.00 234.95L247.60 234.34L247.20 233.73L246.80 233.12L246.40 232.51L246.00 231.89L245.60 231.28L245.20 230.67L244.80 230.06L244.40 229.45L244.00 228.22L243.60 226.77L243.20 225.33L242.80 223.89L242.40 222.44L242.00 221.00Z" fill="#13873d"/>
</g>
<g class="tk" text-anchor="end">
<text x="11.6" y="253.9">0</text>
<text x="11.6" y="218.6">0.2</text>
<text x="11.6" y="183.3">0.4</text>
<text x="11.6" y="148.1">0.6</text>
<text x="11.6" y="112.8">0.8</text>
<text x="11.6" y="77.5">1</text>
<text x="11.6" y="42.2">1.2</text>
<text x="11.6" y="6.9">1.4</text>
</g>
<g class="tk">
<text x="6.6" y="265.4">10<tspan class="sup" dy="-4">-1</tspan></text>
<text x="89.2" y="265.4">10<tspan class="sup" dy="-4">0</tspan></text>
<text x="169.9" y="265.4">10<tspan class="sup" dy="-4">1</tspan></text>
<text x="250.6" y="265.4">10<tspan class="sup" dy="-4">2</tspan></text>
<text x="331.5" y="265.4">10<tspan class="sup" dy="-4">3</tspan></text>
</g>
<path d="M137 50.1L170 66.1" stroke="#111111" stroke-width="1.2"/>
<path d="M173 67.6L168.2 67.1L169.7 64.1Z" fill="#111111"/>
<text transform="matrix(0.5195 0 0 0.4305 79.87 195.40)" style="font-family:'Liberation Serif',serif;font-style:italic;font-size:40.0px;fill:#2d4ba8">T</text>
<text transform="matrix(0.3864 0 0 0.2760 90.53 197.91)" style="font-family:'Liberation Serif',serif;font-style:italic;font-size:40.0px;fill:#2d4ba8">i</text>
<text transform="matrix(0.4297 0 0 0.3070 94.63 198.17)" style="font-family:'Liberation Serif',serif;font-style:normal;font-size:40.0px;fill:#2d4ba8">|</text>
<text transform="matrix(0.4297 0 0 0.3070 97.03 198.17)" style="font-family:'Liberation Serif',serif;font-style:normal;font-size:40.0px;fill:#2d4ba8">|</text>
<text transform="matrix(0.5818 0 0 0.5926 102.00 199.10)" style="font-family:'Liberation Serif',serif;font-style:normal;font-size:40.0px;fill:#2d4ba8">/</text>
<text transform="matrix(0.5195 0 0 0.4305 108.97 195.40)" style="font-family:'Liberation Serif',serif;font-style:italic;font-size:40.0px;fill:#2d4ba8">T</text>
<text transform="matrix(0.2882 0 0 0.2716 119.17 197.76)" style="font-family:'Liberation Serif',serif;font-style:normal;font-size:40.0px;fill:#2d4ba8">0</text>
<text transform="matrix(0.5333 0 0 0.4381 67.73 236.80)" style="font-family:'Liberation Serif',serif;font-style:italic;font-size:40.0px;fill:#111111">T</text>
<text transform="matrix(0.2984 0 0 0.2667 78.93 239.87)" style="font-family:'Liberation Serif',serif;font-style:italic;font-size:40.0px;fill:#111111">e</text>
<text transform="matrix(0.4318 0 0 0.3084 83.92 239.93)" style="font-family:'Liberation Serif',serif;font-style:normal;font-size:40.0px;fill:#111111">|</text>
<text transform="matrix(0.4318 0 0 0.3084 86.62 239.93)" style="font-family:'Liberation Serif',serif;font-style:normal;font-size:40.0px;fill:#111111">|</text>
<text transform="matrix(0.6000 0 0 0.6037 91.40 240.60)" style="font-family:'Liberation Serif',serif;font-style:normal;font-size:40.0px;fill:#111111">/</text>
<text transform="matrix(0.5333 0 0 0.4419 98.13 237.00)" style="font-family:'Liberation Serif',serif;font-style:italic;font-size:40.0px;fill:#111111">T</text>
<text transform="matrix(0.2941 0 0 0.2642 108.56 238.97)" style="font-family:'Liberation Serif',serif;font-style:normal;font-size:40.0px;fill:#111111">0</text>
<text transform="matrix(0.5013 0 0 0.3581 206.05 66.20)" style="font-family:'Liberation Serif',serif;font-style:italic;font-size:40.0px;fill:#ec1c24">n</text>
<text transform="matrix(0.3175 0 0 0.2872 215.60 69.66)" style="font-family:'Liberation Serif',serif;font-style:italic;font-size:40.0px;fill:#ec1c24">e</text>
<text transform="matrix(0.6000 0 0 0.6074 223.30 70.70)" style="font-family:'Liberation Serif',serif;font-style:normal;font-size:40.0px;fill:#ec1c24">/</text>
<text transform="matrix(0.5303 0 0 0.3788 230.26 66.80)" style="font-family:'Liberation Serif',serif;font-style:italic;font-size:40.0px;fill:#ec1c24">n</text>
<text transform="matrix(0.2941 0 0 0.2495 240.46 68.88)" style="font-family:'Liberation Serif',serif;font-style:normal;font-size:40.0px;fill:#ec1c24">0</text>
<text transform="matrix(0.5440 0 0 0.5440 249.01 207.76)" style="font-family:'Liberation Serif',serif;font-style:normal;font-size:40.0px;fill:#0f6433">−</text>
<text transform="matrix(0.4648 0 0 0.4185 261.07 204.59)" style="font-family:'Liberation Serif',serif;font-style:italic;font-size:40.0px;fill:#0f6433">V</text>
<text transform="matrix(0.3355 0 0 0.2528 271.05 209.00)" style="font-family:'Liberation Serif',serif;font-style:italic;font-size:40.0px;fill:#0f6433">i</text>
<text transform="matrix(0.3897 0 0 0.2784 274.69 208.84)" style="font-family:'Liberation Serif',serif;font-style:normal;font-size:40.0px;fill:#0f6433">|</text>
<text transform="matrix(0.3897 0 0 0.2784 276.89 208.84)" style="font-family:'Liberation Serif',serif;font-style:normal;font-size:40.0px;fill:#0f6433">|</text>
<text transform="matrix(0.5727 0 0 0.6148 283.40 208.59)" style="font-family:'Liberation Serif',serif;font-style:normal;font-size:40.0px;fill:#0f6433">/</text>
<text transform="matrix(0.3942 0 0 0.3579 290.10 205.22)" style="font-family:'Liberation Serif',serif;font-style:italic;font-size:40.0px;fill:#0f6433">v</text>
<text transform="matrix(0.3371 0 0 0.3407 297.11 208.56)" style="font-family:'Liberation Serif',serif;font-style:italic;font-size:40.0px;fill:#0f6433">th,i</text>
<text transform="matrix(0.4722 0 0 0.4432 159.74 278.40)" style="font-family:'Liberation Serif',serif;font-style:italic;font-size:40.0px;fill:#111111">x</text>
<text transform="matrix(0.4545 0 0 0.6296 168.60 282.49)" style="font-family:'Liberation Serif',serif;font-style:normal;font-size:40.0px;fill:#111111">/</text>
<text transform="matrix(0.5449 0 0 0.4035 177.94 278.40)" style="font-family:'Liberation Serif',serif;font-style:italic;font-size:40.0px;fill:#111111">λ</text>
<text transform="matrix(0.2852 0 0 0.2400 187.54 279.60)" style="font-family:'Liberation Serif',serif;font-style:italic;font-size:40.0px;fill:#111111">D</text>
<text transform="matrix(0.4630 0 0 0.4074 108.81 53.20)" style="font-family:'Liberation Serif',serif;font-style:normal;font-size:40.0px;fill:#111111">CF</text>
</svg>
</body></html>
